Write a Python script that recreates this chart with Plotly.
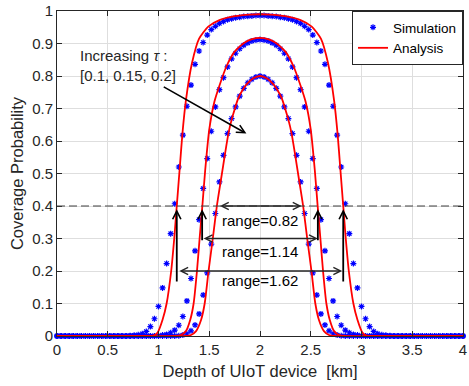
import plotly.graph_objects as go

# ---------------- data ----------------
sim_depth = [0.00, 0.04, 0.08, 0.12, 0.16, 0.20, 0.24, 0.28, 0.32, 0.36,
             0.40, 0.44, 0.48, 0.52, 0.56, 0.60, 0.64, 0.68, 0.72, 0.76,
             0.80, 0.84, 0.88, 0.92, 0.96, 1.00, 1.04, 1.08, 1.12, 1.16,
             1.20, 1.24, 1.28, 1.32, 1.36, 1.40, 1.44, 1.48, 1.52, 1.56,
             1.60, 1.64, 1.68, 1.72, 1.76, 1.80, 1.84, 1.88, 1.92, 1.96,
             2.00,
             2.04, 2.08, 2.12, 2.16, 2.20, 2.24, 2.28, 2.32, 2.36, 2.40,
             2.44, 2.48, 2.52, 2.56, 2.60, 2.64, 2.68, 2.72, 2.76, 2.80,
             2.84, 2.88, 2.92, 2.96, 3.00, 3.04, 3.08, 3.12, 3.16, 3.20,
             3.24, 3.28, 3.32, 3.36, 3.40, 3.44, 3.48, 3.52, 3.56, 3.60,
             3.64, 3.68, 3.72, 3.76, 3.80, 3.84, 3.88, 3.92, 3.96, 4.00]

sim_tau_01 = [0, 0, 0, 0, 0, 0, 0, 0, 0, 0,
              0, 0, 0, 0, 0, 0, 0, 0, 0.001, 0.002,
              0.004, 0.007, 0.014, 0.029, 0.053, 0.091, 0.148, 0.223, 0.315, 0.407,
              0.520, 0.618, 0.707, 0.772, 0.836, 0.877, 0.903, 0.926, 0.943, 0.953,
              0.962, 0.968, 0.973, 0.976, 0.979, 0.981, 0.983, 0.984, 0.985, 0.986,
              0.986,
              0.986, 0.985, 0.984, 0.983, 0.981, 0.979, 0.976, 0.973, 0.968, 0.962,
              0.953, 0.943, 0.926, 0.903, 0.877, 0.836, 0.772, 0.707, 0.618, 0.520,
              0.407, 0.315, 0.223, 0.148, 0.091, 0.053, 0.029, 0.014, 0.007, 0.004,
              0.002, 0.001, 0, 0, 0, 0, 0, 0, 0, 0,
              0, 0, 0, 0, 0, 0, 0, 0, 0, 0]

sim_tau_015 = [0, 0, 0, 0, 0, 0, 0, 0, 0, 0,
               0, 0, 0, 0, 0, 0, 0, 0, 0, 0,
               0, 0, 0, 0, 0, 0.001, 0.003, 0.005, 0.010, 0.018,
               0.033, 0.060, 0.108, 0.177, 0.262, 0.358, 0.454, 0.546, 0.630, 0.705,
               0.758, 0.795, 0.828, 0.853, 0.870, 0.884, 0.895, 0.902, 0.908, 0.911,
               0.912,
               0.911, 0.908, 0.902, 0.895, 0.884, 0.870, 0.853, 0.828, 0.795, 0.758,
               0.705, 0.630, 0.546, 0.454, 0.358, 0.262, 0.177, 0.108, 0.060, 0.033,
               0.018, 0.010, 0.005, 0.003, 0.001, 0, 0, 0, 0, 0,
               0, 0, 0, 0, 0, 0, 0, 0, 0, 0,
               0, 0, 0, 0, 0, 0, 0, 0, 0, 0]

sim_tau_02 = [0, 0, 0, 0, 0, 0, 0, 0, 0, 0,
              0, 0, 0, 0, 0, 0, 0, 0, 0, 0,
              0, 0, 0, 0, 0, 0, 0, 0, 0, 0,
              0.001, 0.003, 0.007, 0.016, 0.034, 0.068, 0.126, 0.194, 0.283, 0.377,
              0.474, 0.556, 0.623, 0.669, 0.705, 0.738, 0.762, 0.779, 0.790, 0.797,
              0.800,
              0.797, 0.790, 0.779, 0.762, 0.738, 0.705, 0.669, 0.623, 0.556, 0.474,
              0.377, 0.283, 0.194, 0.126, 0.068, 0.034, 0.016, 0.007, 0.003, 0.001,
              0, 0, 0, 0, 0, 0, 0, 0, 0, 0,
              0, 0, 0, 0, 0, 0, 0, 0, 0, 0,
              0, 0, 0, 0, 0, 0, 0, 0, 0, 0]

ana_depth_01 = [0, 0.90, 0.95, 0.99, 1.04, 1.08, 1.125, 1.155, 1.18, 1.21, 1.235, 1.27,
                1.33, 1.40, 1.49, 1.60, 1.75, 1.90, 2.00,
                2.10, 2.25, 2.40, 2.51, 2.60, 2.67, 2.73, 2.765, 2.79, 2.82, 2.845,
                2.875, 2.92, 2.96, 3.01, 3.05, 3.10, 4.00]
ana_tau_01 = [0, 0, 0.001, 0.01, 0.05, 0.10, 0.20, 0.30, 0.40, 0.52, 0.62, 0.725,
              0.84, 0.915, 0.952, 0.972, 0.984, 0.989, 0.990,
              0.989, 0.984, 0.972, 0.952, 0.915, 0.84, 0.725, 0.62, 0.52, 0.40, 0.30,
              0.20, 0.10, 0.05, 0.01, 0.001, 0, 0]

ana_depth_015 = [0, 1.17, 1.22, 1.27, 1.313, 1.346, 1.379, 1.405, 1.432, 1.46, 1.50,
                 1.55, 1.60, 1.67, 1.75, 1.85, 1.93, 2.00,
                 2.07, 2.15, 2.25, 2.33, 2.40, 2.45, 2.50, 2.54, 2.568, 2.595, 2.621,
                 2.654, 2.687, 2.73, 2.78, 2.83, 4.00]
ana_tau_015 = [0, 0, 0.003, 0.015, 0.05, 0.10, 0.20, 0.30, 0.40, 0.51, 0.635,
               0.72, 0.77, 0.83, 0.875, 0.903, 0.914, 0.917,
               0.914, 0.903, 0.875, 0.83, 0.77, 0.72, 0.635, 0.51, 0.40, 0.30, 0.20,
               0.10, 0.05, 0.015, 0.003, 0, 0]

ana_depth_02 = [0, 1.27, 1.32, 1.37, 1.42, 1.455, 1.493, 1.535, 1.575, 1.62, 1.655,
                1.69, 1.72, 1.753, 1.785, 1.83, 1.87, 1.93, 2.00,
                2.07, 2.13, 2.17, 2.215, 2.247, 2.28, 2.31, 2.345, 2.38, 2.425, 2.465,
                2.507, 2.545, 2.58, 2.63, 2.68, 2.73, 4.00]
ana_tau_02 = [0, 0, 0.003, 0.015, 0.05, 0.10, 0.20, 0.30, 0.40, 0.49, 0.56,
              0.625, 0.665, 0.70, 0.731, 0.758, 0.775, 0.792, 0.800,
              0.792, 0.775, 0.758, 0.731, 0.70, 0.665, 0.625, 0.56, 0.49, 0.40, 0.30,
              0.20, 0.10, 0.05, 0.015, 0.003, 0, 0]

threshold = 0.4
range_values = [0.82, 1.14, 1.62]
range_left = [1.59, 1.43, 1.19]
range_right = [2.41, 2.57, 2.81]
range_level = [0.40, 0.30, 0.20]
range_label_y = [0.354, 0.261, 0.170]
vert_x = [1.18, 2.82, 1.43, 2.57]
vert_from = [0.163, 0.163, 0.29, 0.29]
vert_to = [0.39, 0.39, 0.39, 0.39]

x_ticks = [0, 0.5, 1, 1.5, 2, 2.5, 3, 3.5, 4]
x_tick_text = ["0", "0.5", "1", "1.5", "2", "2.5", "3", "3.5", "4"]
y_ticks = [0, 0.1, 0.2, 0.3, 0.4, 0.5, 0.6, 0.7, 0.8, 0.9, 1]
y_tick_text = ["0", "0.1", "0.2", "0.3", "0.4", "0.5", "0.6", "0.7", "0.8", "0.9", "1"]

# ---------------- figure ----------------
FONT = "Liberation Sans, Arial, Helvetica, sans-serif"
TXT = "#262626"

fig = go.Figure()

for i, ys in enumerate([sim_tau_01, sim_tau_015, sim_tau_02]):
    fig.add_trace(go.Scatter(
        x=sim_depth, y=ys, mode="markers", name="Simulation",
        legendgroup="sim", showlegend=(i == 0), cliponaxis=False,
        marker=dict(symbol="asterisk-open", size=5, color="#0000ff",
                    line=dict(color="#0000ff", width=1.2))))

for i, (xs, ys) in enumerate([(ana_depth_01, ana_tau_01),
                              (ana_depth_015, ana_tau_015),
                              (ana_depth_02, ana_tau_02)]):
    fig.add_trace(go.Scatter(
        x=xs, y=ys, mode="lines", name="Analysis",
        legendgroup="ana", showlegend=(i == 0), cliponaxis=False,
        line=dict(color="#ff0000", width=1.8, shape="spline", smoothing=0.6)))

# threshold dashed line
fig.add_shape(type="line", xref="x", yref="y", x0=0, x1=4, y0=threshold, y1=threshold,
              line=dict(color="#404040", width=1, dash="8px,4px"))

annotations = []
# range double arrows + labels
for val, xl, xr, yl, ty in zip(range_values, range_left, range_right, range_level, range_label_y):
    annotations.append(dict(x=xr, y=yl, ax=xl, ay=yl, xref="x", yref="y", axref="x", ayref="y",
                            text="", showarrow=True, arrowside="end+start",
                            arrowhead=5, startarrowhead=5, arrowsize=1.1, startarrowsize=1.1,
                            arrowwidth=1.3, arrowcolor="#262626"))
    annotations.append(dict(x=2.0, y=ty, xref="x", yref="y", text=f"range={val}",
                            showarrow=False, font=dict(family=FONT, size=15, color="#000000")))
# vertical arrows
for vx, v0, v1 in zip(vert_x, vert_from, vert_to):
    annotations.append(dict(x=vx, y=v1, ax=vx, ay=v0, xref="x", yref="y", axref="x", ayref="y",
                            text="", showarrow=True, arrowhead=5, arrowsize=0.9,
                            arrowwidth=1.8, arrowcolor="#000000"))
# increasing tau text and arrow
annotations.append(dict(x=0.205, y=0.832, xref="x", yref="y", xanchor="left", yanchor="middle",
                        align="left", showarrow=False,
                        text="Increasing <i>τ</i> :<br>[0.1, 0.15, 0.2]",
                        font=dict(family=FONT, size=15, color=TXT)))
annotations.append(dict(x=1.866, y=0.623, ax=1.037, ay=0.769, xref="x", yref="y",
                        axref="x", ayref="y", text="", showarrow=True, arrowhead=5,
                        arrowsize=1.0, arrowwidth=1.6, arrowcolor="#000000"))

fig.update_layout(
    width=469, height=386,
    margin=dict(l=57, r=2, t=11, b=50),
    plot_bgcolor="white", paper_bgcolor="white",
    font=dict(family=FONT, size=15, color=TXT),
    annotations=annotations,
    legend=dict(x=1, y=1, xanchor="right", yanchor="top", bgcolor="white",
                bordercolor="#262626", borderwidth=1,
                font=dict(family=FONT, size=13.5, color="#000000"),
                tracegroupgap=0),
)

axis_common = dict(ticks="inside", ticklen=5, tickwidth=1, tickcolor=TXT,
                   showline=True, linecolor=TXT, linewidth=1, mirror="ticks",
                   showgrid=True, gridcolor="#dedede", gridwidth=1, zeroline=False,
                   ticklabeloverflow="allow",
                   tickfont=dict(family=FONT, size=15, color=TXT))

fig.update_xaxes(range=[0, 4], tickvals=x_ticks, ticktext=x_tick_text,
                 title=dict(text="Depth of UIoT device\u00a0 [km]",
                            font=dict(family=FONT, size=16.5, color=TXT), standoff=8),
                 **axis_common)
fig.update_yaxes(range=[0, 1], tickvals=y_ticks, ticktext=y_tick_text,
                 title=dict(text="Coverage Probability",
                            font=dict(family=FONT, size=16.5, color=TXT), standoff=4),
                 **axis_common)

fig.write_html("out.html")
